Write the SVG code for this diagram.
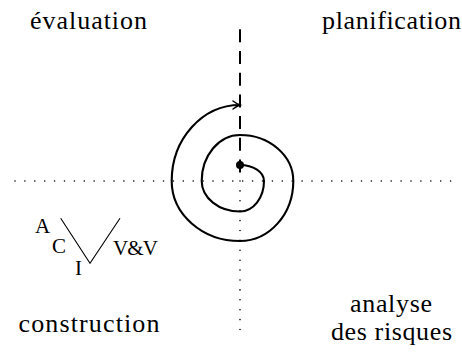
<svg xmlns="http://www.w3.org/2000/svg" width="462" height="354" viewBox="0 0 462 354">
<style>
  .big { font-family: "Liberation Serif", "Times New Roman", serif; font-size: 26px; text-anchor: middle; fill: #000; }
  .small { font-family: "Liberation Serif", "Times New Roman", serif; font-size: 21px; fill: #000; }
  .axis { fill: none; stroke: #000; stroke-width: 1.6; stroke-linecap: round; stroke-dasharray: 0 9.9; }
  .dash { fill: none; stroke: #000; stroke-width: 2; stroke-dasharray: 13 8.7; }
  .spiral { fill: none; stroke: #000; stroke-width: 2.1; }
  .thin { fill: none; stroke: #000; stroke-width: 1.1; }
</style>
<defs>
  <marker id="arr" markerUnits="userSpaceOnUse" viewBox="-10 -6 11 12" markerWidth="11" markerHeight="12" refX="0" refY="0" orient="auto" overflow="visible">
    <path d="M-7,-4 Q-3,-1 0,0 Q-3,1 -7,4" fill="none" stroke="#000" stroke-width="1.5" stroke-linecap="round"/>
  </marker>
</defs>
<rect width="462" height="354" fill="#fff"/>
<g id="connectors">
  <path class="axis" d="M15,181 H458"/>
  <path class="axis" d="M240,181 V331"/>
  <path class="dash" d="M240,29.3 V181"/>
  <path class="spiral" marker-end="url(#arr)" d="M240,165 A24,16 0 0 1 264,181 A24,30.5 0 0 1 240,211.5 A38.3,30.5 0 0 1 201.7,181 A38.3,46 0 0 1 240,135 A53.3,46 0 0 1 293.3,181 A53.3,60 0 0 1 240,241 A68.3,60 0 0 1 171.7,181 A68.3,76 0 0 1 240,105"/>
  <circle cx="240" cy="165" r="4" fill="#000"/>
</g>
<g id="evaluation"><text class="big" x="88.5" y="28.5" textLength="117" lengthAdjust="spacing">évaluation</text></g>
<g id="planification"><text class="big" x="391.5" y="28.5" textLength="139" lengthAdjust="spacing">planification</text></g>
<g id="construction"><text class="big" x="89" y="332" textLength="141" lengthAdjust="spacing">construction</text></g>
<g id="analyse">
  <text class="big" x="391" y="312" textLength="82" lengthAdjust="spacing">analyse</text>
  <text class="big" x="391.5" y="340" textLength="121" lengthAdjust="spacing">des risques</text>
</g>
<g id="vcycle">
  <path class="thin" d="M60.7,218.3 L90,263.3 L120,218.3"/>
  <text class="small" x="35" y="233.3">A</text>
  <text class="small" x="52" y="253.3">C</text>
  <text class="small" x="75" y="275">I</text>
  <text class="small" x="113" y="255" textLength="45" lengthAdjust="spacing">V&amp;V</text>
</g>
</svg>
